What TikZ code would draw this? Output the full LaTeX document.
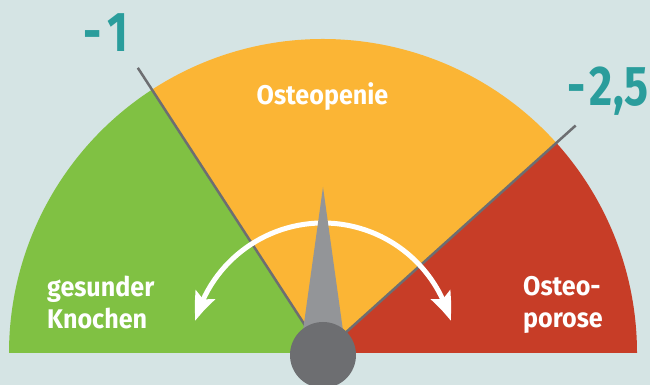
\documentclass[tikz,border=0pt]{standalone}
\usepackage{fontspec}
\setmainfont{Fira Sans}[FakeStretch = 0.93]
\newfontfamily\zahlen{Fira Sans}[FakeStretch = 0.8]
\usetikzlibrary{arrows.meta,bending,calc}
\definecolor{backgr}{HTML}{D5E4E4}
\definecolor{gesund}{HTML}{80C143}
\definecolor{penie}{HTML}{FBB535}
\definecolor{porose}{HTML}{C73D27}
\definecolor{wert}{HTML}{2A9D9C}
\definecolor{strich}{HTML}{6D6E71}
\definecolor{zeiger}{HTML}{939598}
\tikzset{
  feld/.style = {white, inner sep = 0, align = left, font = \bfseries\fontsize{27}{32}\selectfont},
  wertlabel/.style = {wert, inner sep = 0, font = \zahlen\bfseries\fontsize{56}{56}\selectfont},
  grenze/.style = {strich, line width = 2.5}
}
\begin{document}
\begin{tikzpicture}[x = 1pt, y = 1pt, >={Stealth[length = 28pt, width = 21pt, inset = 5pt, bend]}]
\useasboundingbox (0,0) rectangle (650,385);
\fill [backgr] (0,0) rectangle (650,385);
\coordinate (O) at (323,32);
\coordinate (M) at (323,30);
\fill [gesund] (O) -- ++(180:314) arc [start angle = 180, end angle = 123, radius = 314] -- cycle;
\fill [penie] (O) -- ++(123:314) arc [start angle = 123, end angle = 42, radius = 314] -- cycle;
\fill [porose] (O) -- ++(42:314) arc [start angle = 42, end angle = 0, radius = 314] -- cycle;
\draw [grenze] (O) -- ++(123:340) coordinate (g1);
\draw [grenze] (O) -- ++(42:340) coordinate (g2);
\node [wertlabel, anchor = base] (w1) at (106,333) {-\kern5pt1};
\node [wertlabel, anchor = base] (w2) at (608,279) {-\kern4pt2,5};
\node [feld, anchor = base] (f2) at (322.5,280) {Osteopenie};
\node [feld, anchor = base west] (f1) at (47,56) {gesunder\\Knochen};
\node [feld, anchor = base west] (f3) at (523,57) {Osteo-\\porose};
\draw [white, line width = 5, <->] ($(M)+(165:132)$) arc [start angle = 165, end angle = 15, radius = 132];
\fill [zeiger] (299.6,30) -- (323,198) coordinate (spitze) -- (346.4,30) -- cycle;
\fill [strich] (M) circle (33);
\end{tikzpicture}
\end{document}
